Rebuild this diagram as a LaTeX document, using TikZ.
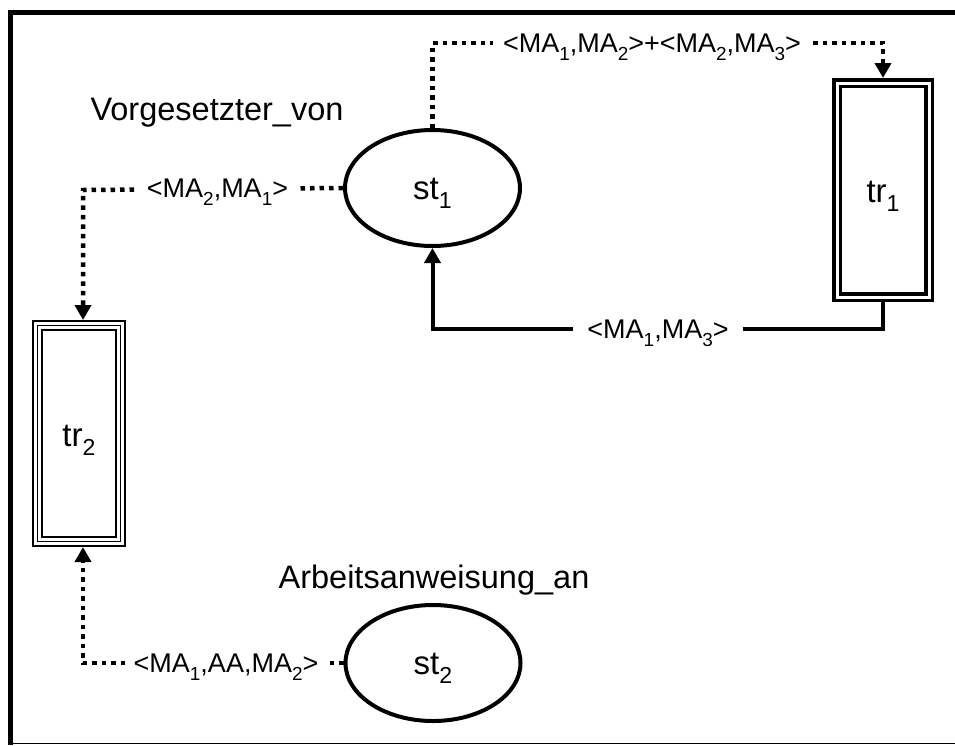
\documentclass[tikz,border=0pt]{standalone}
\usepackage{fontspec}
\setmainfont{Liberation Sans}
\usepackage{graphicx}
\usetikzlibrary{shapes.geometric,arrows.meta}
\newcommand\sbs[1]{\raisebox{-0.28em}{\scalebox{0.7}{#1}}}
\begin{document}
\begin{tikzpicture}[x=1pt,y=-1pt,
  place/.style={ellipse,draw,line width=4pt,minimum width=175pt,minimum height=116pt,inner sep=0pt,text height=23pt,text depth=0pt,font=\fontsize{33}{38}\selectfont},
  transA/.style={draw,line width=3.5pt,double=white,double distance=3pt,minimum width=92pt,minimum height=214pt,inner sep=0pt,outer sep=5pt,text height=25pt,text depth=0pt,font=\fontsize{33}{38}\selectfont},
  transB/.style={draw,line width=11pt,minimum width=83pt,minimum height=216pt,inner sep=0pt,outer sep=5.5pt,postaction={draw,white,line width=6.5pt},postaction={draw,black,line width=1.3pt},text height=25pt,text depth=0pt,font=\fontsize{33}{38}\selectfont},
  title/.style={font=\fontsize{32.5}{38}\selectfont},
  elabel/.style={fill=white,inner xsep=10pt,inner ysep=2pt,text height=19.4pt,text depth=0pt,font=\fontsize{27}{32}\selectfont},
  dotline/.style={line width=4.5pt,dash pattern=on 4.5pt off 5pt},
  solidline/.style={line width=4pt},
  tip/.style={-{Triangle[length=15pt,width=16pt]}},
]
\useasboundingbox (0,0) rectangle (955,745);
% frame
\draw[line width=5pt] (10,745) -- (10,12.5) -- (955,12.5);
\draw[line width=1.5pt] (10,743.5) -- (955,743.5);

% nodes
\node[place] (st1) at (432.5,188) {st\sbs{1}};
\node[place] (st2) at (433,663) {st\sbs{2}};
\node[transA] (tr1) at (883,190) {tr\sbs{1}};
\node[transB] (tr2) at (79,433.5) {tr\sbs{2}};
\node[title] (n1) at (217,113) {Vorgesetzter\_von};
\node[title] (n2) at (434,580) {Arbeitsanweisung\_an};

% connectors
\coordinate (c1) at (883,43);
\draw[dotline,tip] (st1.north) |- (c1) -- (tr1.north);
\coordinate (c2) at (83,190);
\draw[dotline,tip] (st1.west) -- (c2) -- (c2 |- tr2.north);
\coordinate (c3) at (883,329);
\coordinate (c4) at (432.5,329);
\draw[solidline,tip] (tr1.south) -- (c3) -- (c4) -- (st1.south);
\coordinate (c5) at (83,663);
\draw[dotline,tip] (st2.west) -- (c5) -- (c5 |- tr2.south);

% labels
\node[elabel] (l1) at (652,43) {<MA\sbs{1},MA\sbs{2}>+<MA\sbs{2},MA\sbs{3}>};
\node[elabel] (l2) at (217.5,188) {<MA\sbs{2},MA\sbs{1}>};
\node[elabel,inner xsep=14pt] (l3) at (658,329) {<MA\sbs{1},MA\sbs{3}>};
\node[elabel,inner xsep=9pt] (l4) at (226,663) {<MA\sbs{1},AA,MA\sbs{2}>};
\end{tikzpicture}
\end{document}
